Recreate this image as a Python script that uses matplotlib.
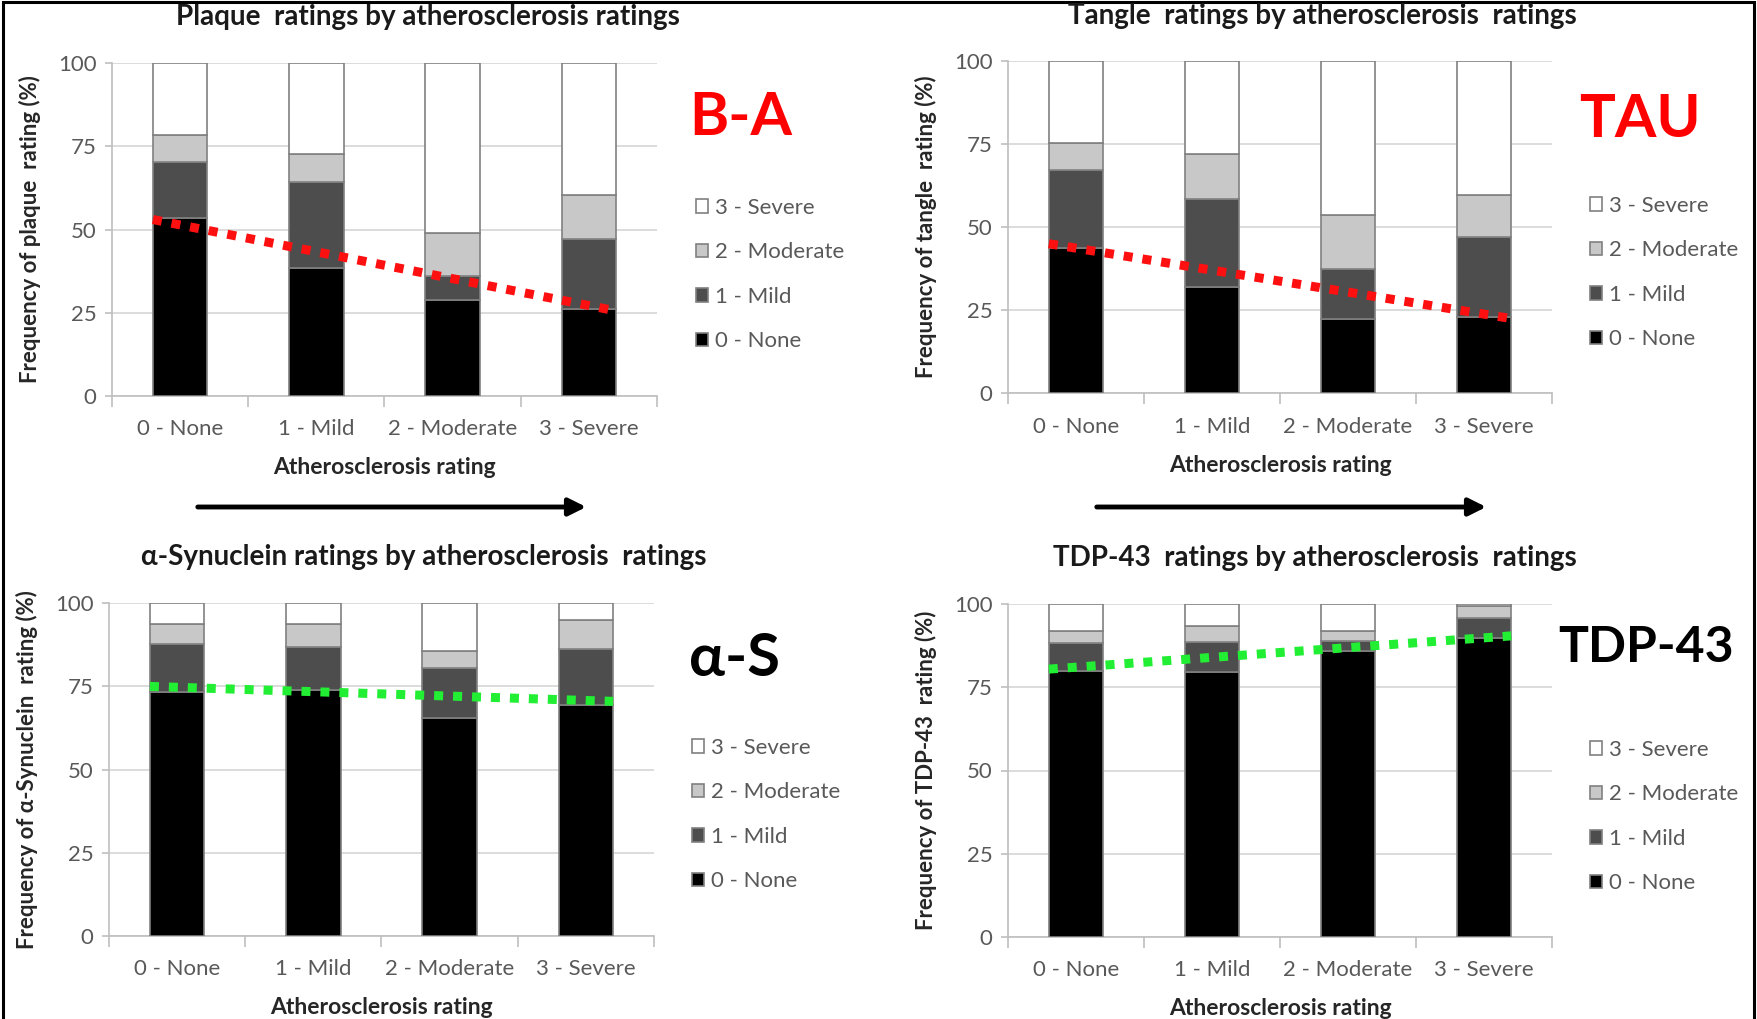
import matplotlib
matplotlib.use("Agg")
import numpy as np
import matplotlib.pyplot as plt
from matplotlib.patches import Patch, Rectangle, FancyArrowPatch

plt.rcParams['font.family'] = ['Lato', 'DejaVu Sans']

# Data (percent of cases per pathology rating, by atherosclerosis rating)
categories = ['0 - None', '1 - Mild', '2 - Moderate', '3 - Severe']
levels = ['0 - None', '1 - Mild', '2 - Moderate', '3 - Severe']

plaque_none = [53.6, 38.3, 28.8, 26.2]
plaque_mild = [16.6, 26.0, 7.1, 20.8]
plaque_moderate = [8.1, 8.5, 12.9, 13.4]
plaque_severe = [21.7, 27.2, 51.2, 39.6]
plaque_trend = [53.0, 25.5]

tangle_none = [43.6, 31.9, 22.3, 23.1]
tangle_mild = [23.6, 26.7, 15.0, 23.9]
tangle_moderate = [8.2, 13.5, 16.4, 12.7]
tangle_severe = [24.6, 27.9, 46.3, 40.3]
tangle_trend = [45.0, 22.5]

syn_none = [73.4, 73.9, 65.6, 69.4]
syn_mild = [14.4, 13.1, 14.8, 17.0]
syn_moderate = [5.9, 6.7, 5.1, 8.6]
syn_severe = [6.3, 6.3, 14.5, 5.0]
syn_trend = [75.0, 70.5]

tdp_none = [80.0, 79.7, 85.9, 89.9]
tdp_mild = [8.3, 9.0, 3.0, 5.9]
tdp_moderate = [3.8, 4.9, 3.0, 3.7]
tdp_severe = [7.9, 6.4, 8.1, 0.5]
tdp_trend = [80.5, 90.5]

level_colors = ['#000000', '#4d4d4d', '#c8c8c8', '#ffffff']
edge = '#808080'
tick_grey = '#595959'

panels = [
    dict(title='Plaque  ratings by atherosclerosis ratings',
         ylabel='Frequency of plaque  rating (%)',
         stacks=[plaque_none, plaque_mild, plaque_moderate, plaque_severe],
         trend=plaque_trend, trend_color='#ff1010',
         tag='B-A', tag_color='#ff0000', tag_size=43,
         rect=[112, 63.3, 657, 395.7], title_xy=(428, 17),
         tag_xy=(741, 118), leg_xy=(696, 198)),
    dict(title='Tangle  ratings by atherosclerosis  ratings',
         ylabel='Frequency of tangle  rating (%)',
         stacks=[tangle_none, tangle_mild, tangle_moderate, tangle_severe],
         trend=tangle_trend, trend_color='#ff1010',
         tag='TAU', tag_color='#ff0000', tag_size=43,
         rect=[1008, 61, 1552, 393.3], title_xy=(1322, 16),
         tag_xy=(1640, 120), leg_xy=(1590, 196)),
    dict(title='\u03b1-Synuclein ratings by atherosclerosis  ratings',
         ylabel='Frequency of \u03b1-Synuclein  rating (%)',
         stacks=[syn_none, syn_mild, syn_moderate, syn_severe],
         trend=syn_trend, trend_color='#22ee33',
         tag='\u03b1-S', tag_color='#000000', tag_size=43,
         rect=[109, 603.3, 654, 935.7], title_xy=(424, 557),
         tag_xy=(735, 659), leg_xy=(692, 738)),
    dict(title='TDP-43  ratings by atherosclerosis  ratings',
         ylabel='Frequency of TDP-43  rating (%)',
         stacks=[tdp_none, tdp_mild, tdp_moderate, tdp_severe],
         trend=tdp_trend, trend_color='#22ee33',
         tag='TDP-43', tag_color='#000000', tag_size=36,
         rect=[1008, 604.3, 1552, 936.7], title_xy=(1315, 558),
         tag_xy=(1646, 648), leg_xy=(1590, 740)),
]

W, H = 1758, 1019
fig = plt.figure(figsize=(W / 100, H / 100), dpi=100)

bar_w = 0.4
x = np.arange(len(categories))

for p in panels:
    x0, y0, x1, y1 = p['rect']
    ax = fig.add_axes([x0 / W, 1 - y1 / H, (x1 - x0) / W, (y1 - y0) / H])
    bottom = np.zeros(len(categories))
    handles = []
    for vals, col, lab in zip(p['stacks'], level_colors, levels):
        ax.bar(x, vals, bar_w, bottom=bottom, color=col, edgecolor=edge,
               linewidth=1.2, zorder=3)
        bottom += np.array(vals)
        handles.append(Patch(facecolor=col, edgecolor=edge, linewidth=1.2, label=lab))

    # hand-drawn style trend line across the bars
    ax.plot([x[0] - bar_w / 2, x[-1] + bar_w / 2], p['trend'], color=p['trend_color'],
            linewidth=6.5, dashes=(1, 1.1), dash_capstyle='butt', zorder=5)

    ax.set_xlim(-0.5, 3.5)
    ax.set_ylim(0, 100)
    ax.set_yticks([0, 25, 50, 75, 100])
    ax.set_xticks(x)
    ax.set_xticklabels(categories)
    ax.set_xticks([-0.5, 0.5, 1.5, 2.5, 3.5], minor=True)
    ax.tick_params(axis='x', which='major', length=0, pad=17, labelsize=16, labelcolor=tick_grey)
    ax.tick_params(axis='x', which='minor', length=8, color='#bfbfbf', width=1.2)
    ax.tick_params(axis='y', length=5, color='#bfbfbf', width=1.2, labelsize=16,
                   labelcolor=tick_grey, pad=6)
    ax.grid(axis='y', color='#d9d9d9', linewidth=1.3, zorder=0)
    for s in ['top', 'right']:
        ax.spines[s].set_visible(False)
    for s in ['left', 'bottom']:
        ax.spines[s].set_color('#bfbfbf')
        ax.spines[s].set_linewidth(1.2)

    ax.set_xlabel('Atherosclerosis rating', fontsize=16.5, fontweight='bold',
                  color='#262626', labelpad=13)
    ax.set_ylabel(p['ylabel'], fontsize=16, fontweight='bold', color='#262626', labelpad=12)

    leg = ax.legend(handles[::-1], levels[::-1], loc='upper left',
                    bbox_to_anchor=(p['leg_xy'][0] / W, 1 - p['leg_xy'][1] / H),
                    bbox_transform=fig.transFigure, frameon=False, fontsize=16,
                    handlelength=0.55, handleheight=0.55, handletextpad=0.3,
                    labelspacing=1.1, borderpad=0, borderaxespad=0)
    for t in leg.get_texts():
        t.set_color(tick_grey)

    fig.text(p['title_xy'][0] / W, 1 - p['title_xy'][1] / H, p['title'], ha='center',
             va='center', fontsize=20, fontweight='bold', color='#1a1a1a')
    fig.text(p['tag_xy'][0] / W, 1 - p['tag_xy'][1] / H, p['tag'], ha='center',
             va='center', fontsize=p['tag_size'], fontweight='bold', color=p['tag_color'])

# arrows between rows
for xa, xb in [(195, 589), (1094, 1489)]:
    fig.add_artist(FancyArrowPatch((xa / W, 1 - 507 / H), (xb / W, 1 - 507 / H),
                                   transform=fig.transFigure, arrowstyle='-|>',
                                   mutation_scale=26, linewidth=3.5, color='black'))

# outer frame
fig.add_artist(Rectangle((0.0015, -0.01), 0.9965, 1.008, transform=fig.transFigure,
                         fill=False, edgecolor='black', linewidth=2.2))

plt.savefig('out.png', dpi=100)
